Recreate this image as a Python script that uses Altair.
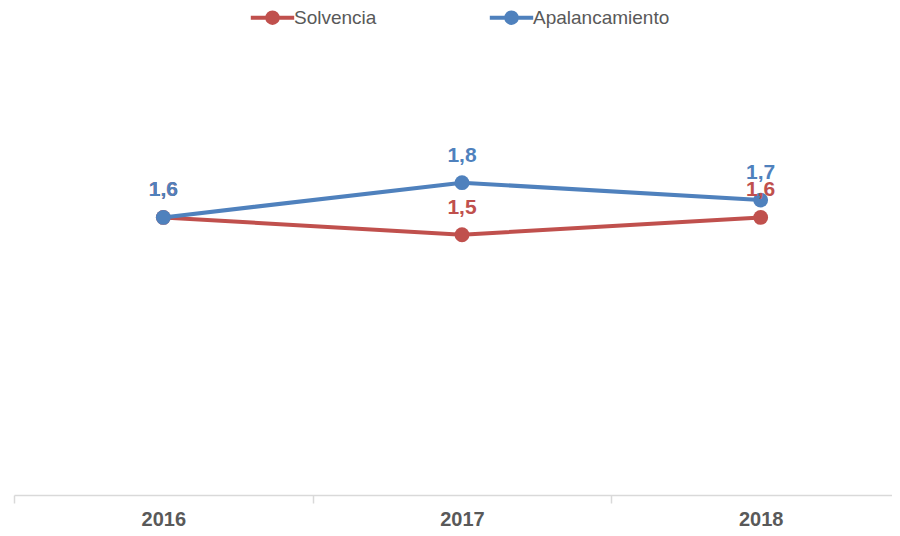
import altair as alt
import pandas as pd

years = ["2016", "2017", "2018"]
solvencia = [1.6, 1.5, 1.6]
apalancamiento = [1.6, 1.8, 1.7]
series = ["Solvencia", "Apalancamiento"]
colors = ["#C0504D", "#4F81BD"]
labels_sol = ["1,6", "1,5", "1,6"]
labels_apa = ["1,6", "1,8", "1,7"]

rows = []
for y, v, l in zip(years, solvencia, labels_sol):
    rows.append({"year": y, "value": v, "serie": "Solvencia", "label": l})
for y, v, l in zip(years, apalancamiento, labels_apa):
    rows.append({"year": y, "value": v, "serie": "Apalancamiento", "label": l})
df = pd.DataFrame(rows)

W, H = 878, 347
FONT = "Liberation Sans"

sym_path = "M-3.1,0L3.1,0M0.75,0A0.75,0.75,0,1,1,-0.75,0A0.75,0.75,0,1,1,0.75,0Z"
leg = alt.Legend(
    title=None,
    orient="none",
    direction="horizontal",
    legendX=249,
    legendY=-140,
    symbolType=sym_path,
    symbolSize=196,
    symbolStrokeWidth=4,
    labelFont=FONT,
    labelFontSize=19,
    labelColor="#595959",
    labelOffset=12,
    columnPadding=104,
)

xenc = alt.X(
    "year:N",
    sort=years,
    scale=alt.Scale(range=[0, 896], paddingInner=0, paddingOuter=0),
    axis=alt.Axis(
        title=None, labelAngle=0, tickBand="extent", domainColor="#d9d9d9",
        tickColor="#d9d9d9", tickSize=8, domainWidth=1.5, tickWidth=1.5,
        labelFont=FONT, labelFontSize=20, labelFontWeight="bold",
        labelColor="#595959", labelPadding=6, grid=False,
    ),
)
yenc = alt.Y("value:Q", scale=alt.Scale(domain=[0, 2], nice=False, zero=True), axis=None)
cenc = alt.Color("serie:N", scale=alt.Scale(domain=series, range=colors), sort=series, legend=leg)

base = alt.Chart(df).encode(x=xenc, y=yenc, color=cenc)

layers = []
for s in series:
    b = base.transform_filter(alt.datum.serie == s)
    layers.append(b.mark_line(strokeWidth=4))
    layers.append(b.mark_point(filled=True, size=220, opacity=1))
for s in series:
    b = base.transform_filter(alt.datum.serie == s)
    layers.append(
        b.mark_text(dy=-27, baseline="middle", align="center", font=FONT,
                    fontSize=21, fontWeight="bold").encode(text="label:N")
    )

chart = alt.layer(*layers).properties(
    width=W, height=H,
    background="white",
    autosize=alt.AutoSizeParams(type="none"),
    padding={"left": 6, "top": 140, "right": 0, "bottom": 33},
).configure_view(stroke=None)

chart.save("out.html", embed_options={"renderer": "svg", "actions": False})
